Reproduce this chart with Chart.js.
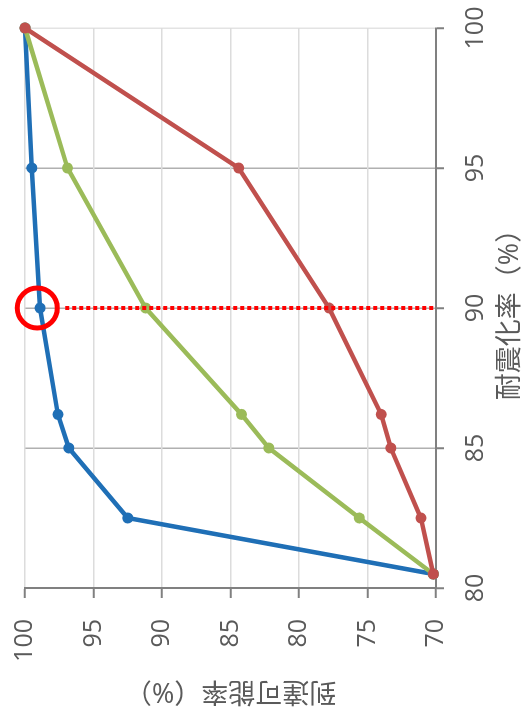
<!DOCTYPE html>
<html><head><meta charset="utf-8">
<script src="https://cdn.jsdelivr.net/npm/chart.js@4"></script>
<style>
html,body{margin:0;padding:0;background:#fff;overflow:hidden;width:524px;height:709px;}
#wrap{position:absolute;left:0;top:0;width:709px;height:524px;transform-origin:0 0;transform:translate(0,709px) rotate(-90deg);}
</style></head><body>
<div id="wrap"><canvas id="c" width="709" height="524"></canvas></div>
<script>
// 耐震化率 (%) values for each point
const seismicRate = [100, 95, 90, 86.2, 85, 82.5, 80.5];
// 到達可能率 (%) per series
const reachBlue  = [100, 99.5, 98.9, 97.6, 96.8, 92.5, 70.2];
const reachGreen = [100, 96.9, 91.2, 84.2, 82.2, 75.6, 70.2];
const reachRed   = [100, 84.4, 77.8, 74.0, 73.3, 71.1, 70.2];
// highlight marker line at 耐震化率 90
const markX = [90, 90];
const markY = [70.2, 97.2];
const circleX = [90];
const circleY = [99.1];

const xTitle = '耐震化率（%）';
const yTitle = '到達可能率（%）';

const pts = (xs, ys) => xs.map((x, i) => ({x, y: ys[i]}));
const FONT = "'Open Sans', 'Noto Sans CJK JP', sans-serif";
const TXT = '#5a5a5a';

function series(data, color, order) {
  return {
    data, borderColor: color, backgroundColor: color,
    borderWidth: 4.5, pointRadius: 5.5, pointHoverRadius: 5.5,
    pointBackgroundColor: color, pointBorderWidth: 0,
    showLine: true, tension: 0, clip: false, order
  };
}

new Chart(document.getElementById('c'), {
  type: 'scatter',
  data: {
    datasets: [
      {
        data: pts(markX, markY), borderColor: '#ff0000', borderWidth: 4,
        borderDash: [4, 3], borderCapStyle: 'butt', pointRadius: 0,
        showLine: true, clip: false, order: 0
      },
      {
        data: pts(circleX, circleY), borderColor: '#ff0000',
        pointRadius: 20, pointBorderWidth: 5, pointBorderColor: '#ff0000',
        pointBackgroundColor: 'rgba(0,0,0,0)', showLine: false, clip: false, order: 0
      },
      series(pts(seismicRate, reachRed), '#c0504d', 1),
      series(pts(seismicRate, reachGreen), '#9bbb59', 2),
      series(pts(seismicRate, reachBlue), '#1f6fb6', 3)
    ]
  },
  options: {
    responsive: false, animation: false, devicePixelRatio: 1,
    layout: { padding: { top: 25, right: 28, left: 0, bottom: 0 } },
    plugins: { legend: { display: false }, tooltip: { enabled: false } },
    scales: {
      x: {
        type: 'linear', position: 'bottom', min: 80, max: 100,
        afterFit(s) { s.height = 88; s.paddingLeft = 0; s.paddingRight = 0; },
        ticks: { stepSize: 5, color: TXT, font: { family: FONT, size: 25 }, padding: 17 },
        grid: {
          color: (c) => c.tick && c.tick.value === 100 ? '#e3e3e3' : '#b0b0b0',
          lineWidth: 1.5, tickLength: 8, tickColor: '#808080', tickWidth: 2
        },
        border: { color: '#808080', width: 2 },
        title: { display: true, text: xTitle, color: TXT, font: { family: FONT, size: 27, lineHeight: 1.0 }, padding: { top: 0, bottom: 0 } }
      },
      y: {
        type: 'linear', position: 'left', min: 70, max: 100,
        afterFit(s) { s.width = 121; s.paddingTop = 0; s.paddingBottom = 0; },
        ticks: { stepSize: 5, color: TXT, font: { family: FONT, size: 25 }, padding: 21 },
        grid: {
          color: '#dcdcdc', lineWidth: 1.5, tickLength: 10, tickColor: '#808080', tickWidth: 2
        },
        border: { color: '#808080', width: 2 },
        title: { display: true, text: yTitle, color: TXT, font: { family: FONT, size: 27 }, padding: { top: 2, bottom: 0 } }
      }
    }
  }
});
</script>
</body></html>
